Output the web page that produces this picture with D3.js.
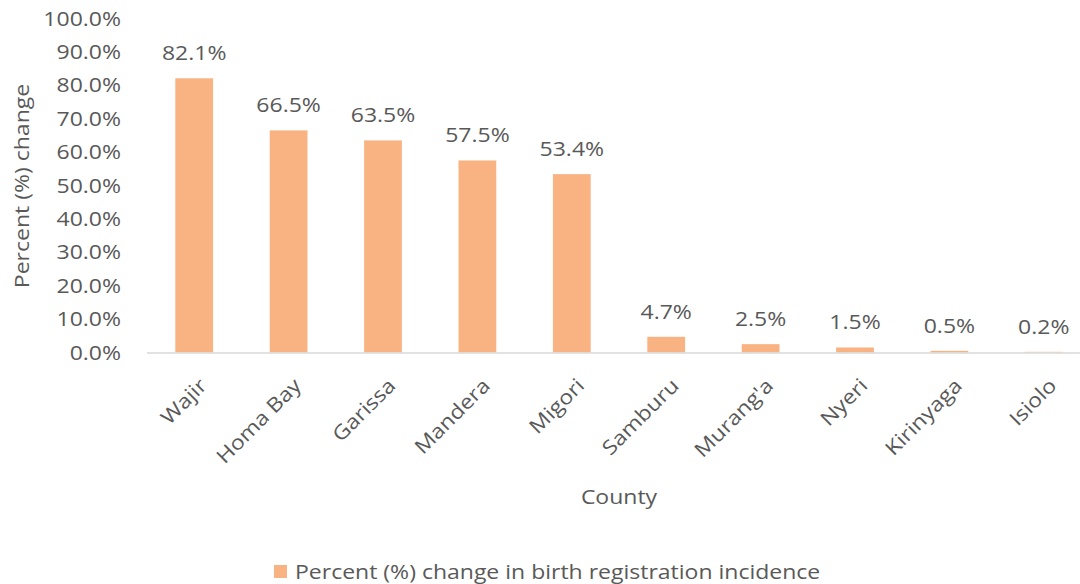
<!DOCTYPE html>
<html>
<head>
<meta charset="utf-8">
<script src="https://cdn.jsdelivr.net/npm/d3@7"></script>
<style>
  body { margin: 0; background: #fff; }
  text { font-family: "Open Sans", sans-serif; fill: #595959; font-size: 20px; }
</style>
</head>
<body>
<script>
// chart data
var counties = ["Wajir", "Homa Bay", "Garissa", "Mandera", "Migori", "Samburu", "Murang'a", "Nyeri", "Kirinyaga", "Isiolo"];
var changes = [82.1, 66.5, 63.5, 57.5, 53.4, 4.7, 2.5, 1.5, 0.5, 0.2];
var yTicks = [0, 10, 20, 30, 40, 50, 60, 70, 80, 90, 100];
var seriesName = "Percent (%) change in birth registration incidence";

var W = 1080, H = 584;
var barColor = "#F9B382";
var sx = " scale(1.15,1)"; // text in the source is a bit wider than Open Sans

var svg = d3.select("body").append("svg")
    .attr("width", W)
    .attr("height", H);

var x = d3.scaleBand().domain(counties).range([147, 1091]).paddingInner(0.6).paddingOuter(0.3);
var y = d3.scaleLinear().domain([0, 100]).range([352.5, 18.5]);

function pct(d) { return d.toFixed(1) + "%"; }

// y axis labels
svg.append("g")
    .selectAll("text")
    .data(yTicks)
    .enter().append("text")
    .attr("transform", function (d) { return "translate(121," + y(d) + ")" + sx; })
    .attr("dy", "0.35em")
    .attr("text-anchor", "end")
    .text(pct);

// bars
svg.append("g")
    .selectAll("rect")
    .data(changes)
    .enter().append("rect")
    .attr("x", function (d, i) { return x(counties[i]); })
    .attr("width", x.bandwidth())
    .attr("y", function (d) { return y(d); })
    .attr("height", function (d) { return y(0) - y(d); })
    .attr("fill", barColor);

// baseline
svg.append("line")
    .attr("x1", 147).attr("x2", W)
    .attr("y1", y(0) + 0.5).attr("y2", y(0) + 0.5)
    .attr("stroke", "#D9D9D9")
    .attr("stroke-width", 1.5);

// value labels
svg.append("g")
    .selectAll("text")
    .data(changes)
    .enter().append("text")
    .attr("transform", function (d, i) {
        return "translate(" + (x(counties[i]) + x.bandwidth() / 2) + "," + (y(d) - 18) + ")" + sx;
    })
    .attr("text-anchor", "middle")
    .text(pct);

// x category labels
svg.append("g")
    .selectAll("text")
    .data(counties)
    .enter().append("text")
    .attr("transform", function (d) {
        return "translate(" + (x(d) + x.bandwidth() / 2 + 4) + "," + 377 + ") rotate(-45)" + sx;
    })
    .attr("text-anchor", "end")
    .attr("dy", "0.7em")
    .text(function (d) { return d; });

// axis titles
svg.append("text")
    .attr("transform", "translate(29,186) rotate(-90)" + sx)
    .attr("text-anchor", "middle")
    .text("Percent (%) change");

svg.append("text")
    .attr("transform", "translate(619,504)" + sx)
    .attr("text-anchor", "middle")
    .text("County");

// legend
svg.append("rect")
    .attr("x", 274).attr("y", 565)
    .attr("width", 13).attr("height", 13)
    .attr("fill", barColor);

svg.append("text")
    .attr("transform", "translate(295,579)" + sx)
    .text(seriesName);
</script>
</body>
</html>
